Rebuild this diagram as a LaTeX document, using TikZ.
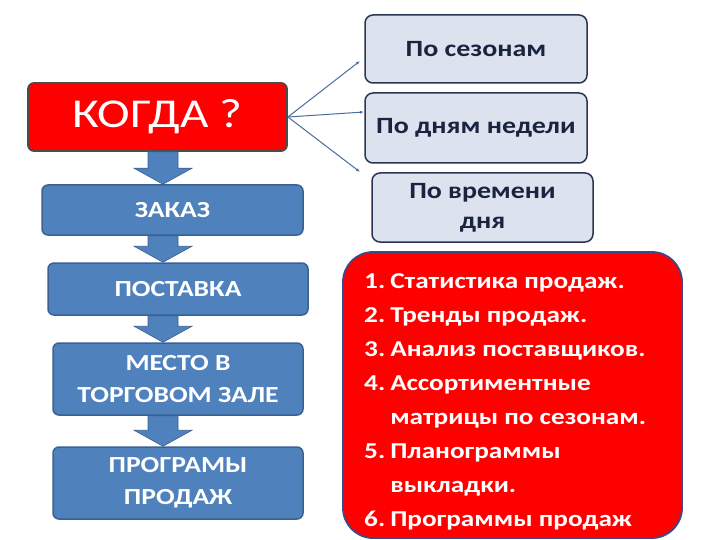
\documentclass[tikz,border=0pt]{standalone}
\usepackage{fontspec}
\setmainfont{Carlito}[FakeStretch=1.2]
\usetikzlibrary{calc,arrows.meta}

\definecolor{boxred}{HTML}{FF0000}
\definecolor{boxblue}{HTML}{4F81BD}
\definecolor{boxblueline}{HTML}{3A6190}
\definecolor{boxpale}{HTML}{DCE3EF}
\definecolor{paleline}{HTML}{2A3550}
\definecolor{palefont}{HTML}{1A2440}
\definecolor{linkblue}{HTML}{4A6C9C}
\definecolor{listline}{HTML}{3C4A8C}

\tikzset{
  stage/.style = {draw=boxblueline, line width=1.5pt, fill=boxblue, rounded corners=6pt,
                  text=white, align=center, inner sep=0pt,
                  font=\bfseries\fontsize{23}{32}\selectfont},
  period/.style = {draw=paleline, line width=1.5pt, fill=boxpale, rounded corners=8pt,
                   text=palefont, align=center, inner sep=0pt,
                   font=\bfseries\fontsize{23.3}{30}\selectfont},
  flowarrow/.style = {fill=boxblue, draw=boxblueline, line width=0.6pt},
  link/.style = {draw=linkblue, line width=1pt, -{Latex[length=4pt,width=3pt]}}
}

\begin{document}
\begin{tikzpicture}[x=1pt, y=-1pt]
  \useasboundingbox (0,0) rectangle (720,540);

  % left column
  \node[draw=black!70, line width=1.8pt, fill=boxred, rounded corners=6pt, text=white,
        minimum width=259pt, minimum height=68pt, inner sep=0pt,
        font=\fontsize{41}{41}\selectfont] (kogda) at (157.5,117) {КОГДА ?};
  \node[stage, minimum width=261pt, minimum height=50pt] (zakaz)    at (172.5,210) {ЗАКАЗ};
  \node[stage, minimum width=260pt, minimum height=52pt] (postavka) at (178,289)   {ПОСТАВКА};
  \node[stage, minimum width=250pt, minimum height=72pt] (mesto)    at (178,379)   {МЕСТО В\\ТОРГОВОМ ЗАЛЕ};
  \node[stage, minimum width=250pt, minimum height=72pt] (progr)    at (178,483)   {ПРОГРАМЫ\\ПРОДАЖ};

  % block arrows between the stages
  \coordinate (axis) at (163,0);
  \foreach \a/\b in {kogda/zakaz, zakaz/postavka, postavka/mesto, mesto/progr} {
    \draw[flowarrow] ($(\a.south -| axis)+(-15,0)$) -- ($(\b.north -| axis)+(-15,-16)$)
      -- ($(\b.north -| axis)+(-29,-16)$) -- (\b.north -| axis)
      -- ($(\b.north -| axis)+(29,-16)$) -- ($(\b.north -| axis)+(15,-16)$)
      -- ($(\a.south -| axis)+(15,0)$) -- cycle;
  }

  % right column
  \node[period, minimum width=222pt, minimum height=68pt] (sezon)  at (476,49)    {По сезонам};
  \node[period, minimum width=222pt, minimum height=70pt] (dni)    at (476,128)   {По дням недели};
  \node[period, minimum width=221pt, minimum height=69pt] (vremya) at (482.5,207.5) {По времени\\дня};

  \coordinate (toSezon)  at (360,61);
  \coordinate (toDni)    at (364,112);
  \coordinate (toVremya) at (360,172);
  \foreach \t in {toSezon, toDni, toVremya}
    \draw[link] (kogda.east) -- (\t);

  % list of sources
  \node[draw=listline, line width=1.8pt, fill=boxred, rounded corners=30pt,
        minimum width=339pt, minimum height=286pt, inner sep=0pt] (sources) at (512.5,395) {};
  \node[anchor=north west, inner sep=0pt, text=white,
        font=\bfseries\fontsize{22.7}{34}\selectfont] (items) at (364,264)
    {\begin{tabular}{@{}l@{\hspace{5pt}}l@{}}
      1. & Статистика продаж.\\
      2. & Тренды продаж.\\
      3. & Анализ поставщиков.\\
      4. & Ассортиментные\\
         & матрицы по сезонам.\\
      5. & Планограммы\\
         & выкладки.\\
      6. & Программы продаж
    \end{tabular}};
\end{tikzpicture}
\end{document}
